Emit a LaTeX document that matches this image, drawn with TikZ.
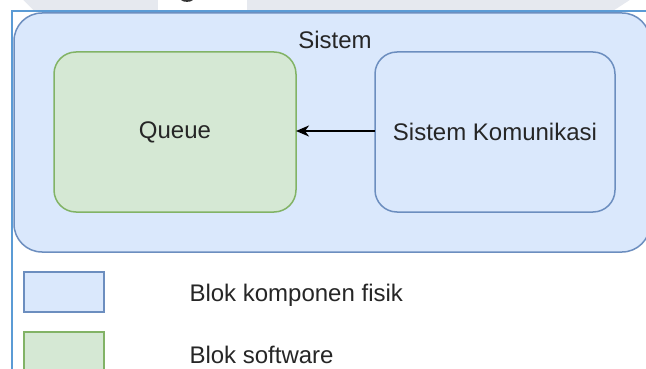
\documentclass[tikz,border=0pt]{standalone}
\usepackage{fontspec}
\setmainfont{Liberation Sans}
\usetikzlibrary{arrows.meta}
\definecolor{bfill}{HTML}{DAE8FC}
\definecolor{bline}{HTML}{6C8EBF}
\definecolor{gfill}{HTML}{D5E8D4}
\definecolor{gline}{HTML}{82B366}
\definecolor{frame}{HTML}{5B9BD5}
\definecolor{band}{HTML}{E6E9EF}
\tikzset{
  lbl/.style={font=\fontsize{24}{28}\selectfont, text=black!85},
  physbox/.style={draw=bline, fill=bfill, line width=1.5pt},
  softbox/.style={draw=gline, fill=gfill, line width=1.5pt},
}
\begin{document}
\begin{tikzpicture}[x=1pt,y=-1pt]
\useasboundingbox (0,0) rectangle (646,369);
\fill[white] (0,0) rectangle (646,369);
% top band (cropped watermark)
\fill[band] (0,0) rectangle (646,11);
\fill[white] (0,0) -- (23,0) -- (34,11) -- (0,11) -- cycle;
\fill[white] (158,0) rectangle (247,11);
\fill[white] (630,0) -- (646,0) -- (646,11) -- (613,11) -- cycle;
\fill[black!80] (181,0) .. controls (183,2.5) and (191,2.5) .. (193,0) -- cycle;
% outer frame
\draw[frame, line width=2pt] (12,380) -- (12,11) -- (660,11);
% container
\draw[physbox, rounded corners=28pt] (14,13) rectangle (650,252);
\node[lbl] (sistem) at (335,40) {Sistem};
\draw[softbox, rounded corners=22pt] (54,52) rectangle (296,212);
\node[lbl] (queue) at (175,132) {Queue};
\coordinate (qe) at (296,131);
\draw[physbox, rounded corners=22pt] (375,52) rectangle (615,212);
\node[lbl] (komm) at (495,132) {Sistem Komunikasi};
\coordinate (ke) at (375,131);
\draw[line width=1.5pt, -{Stealth[length=13pt,width=11pt,inset=4pt]}] (ke) -- (qe);
% legend
\draw[physbox] (24,272) rectangle (104,312);
\node[lbl, anchor=west] (lg1) at (186,295) {Blok komponen fisik};
\draw[softbox] (24,332) rectangle (104,380);
\node[lbl, anchor=west] (lg2) at (186,355) {Blok software};
\end{tikzpicture}
\end{document}
